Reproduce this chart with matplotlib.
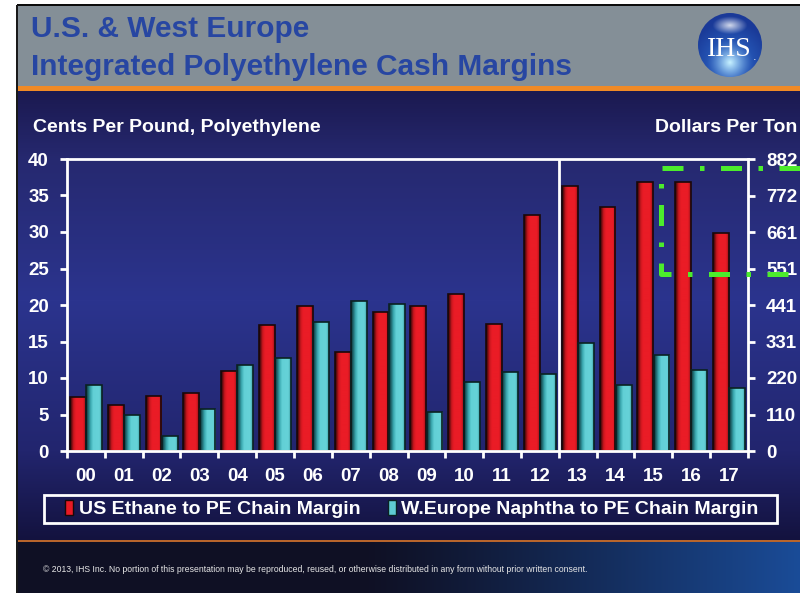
import numpy as np
import matplotlib
matplotlib.use("Agg")
import matplotlib.pyplot as plt
from matplotlib.colors import LinearSegmentedColormap, to_rgb
from matplotlib.patches import Rectangle, Circle, Patch

# ---------------- data ----------------
years = ["00", "01", "02", "03", "04", "05", "06", "07", "08",
         "09", "10", "11", "12", "13", "14", "15", "16", "17"]
us_ethane = [7.4, 6.3, 7.5, 8.0, 11.0, 17.2, 19.9, 13.6, 19.1,
             19.9, 21.5, 17.4, 32.3, 36.3, 33.4, 36.8, 36.8, 29.9]
weu_naphtha = [9.1, 5.0, 2.0, 5.8, 11.8, 12.7, 17.7, 20.5, 20.2,
               5.4, 9.4, 10.8, 10.6, 14.8, 9.1, 13.1, 11.1, 8.6]
left_ticks = [0, 5, 10, 15, 20, 25, 30, 35, 40]
right_tick_labels = ["0", "110", "220", "331", "441", "551", "661", "772", "882"]
series_names = ["US Ethane to PE Chain Margin", "W.Europe Naphtha to PE Chain Margin"]
title_lines = ["U.S. & West Europe", "Integrated Polyethylene Cash Margins"]
left_label = "Cents Per Pound, Polyethylene"
right_label = "Dollars Per Ton"
footer = ("\u00a9 2013, IHS Inc. No portion of this presentation may be reproduced, reused, "
          "or otherwise distributed in any form without prior written consent.")

W, H = 800, 593
BOLD = ["Liberation Sans", "DejaVu Sans"]

fig = plt.figure(figsize=(W / 100, H / 100), dpi=100)

# ---------------- background (pixel coordinates, y down) ----------------
bg = fig.add_axes([0, 0, 1, 1], zorder=-5)
bg.set_xlim(0, W)
bg.set_ylim(H, 0)
bg.axis("off")

img = np.ones((H, W, 3))
ys = np.arange(H)
stops_y = [91, 160, 300, 450, 540]
stops_c = np.array([(0x1b, 0x19, 0x50), (0x26, 0x29, 0x70), (0x2b, 0x34, 0x8e),
                    (0x22, 0x25, 0x6e), (0x13, 0x12, 0x3e)]) / 255.0
navy = np.stack([np.interp(ys, stops_y, stops_c[:, k]) for k in range(3)], axis=1)
img[91:541, 17:, :] = navy[91:541, None, :]
img[5:86, 17:, :] = np.array(to_rgb("#848f97"))
img[86:91, 17:, :] = np.array(to_rgb("#f08a26"))
xs = np.arange(W)
fc0 = np.array(to_rgb("#0f1024"))
fc1 = np.array(to_rgb("#1a4c98"))
t = np.clip((xs - 360) / 440.0, 0, 1) ** 1.2
foot = fc0[None, :] * (1 - t[:, None]) + fc1[None, :] * t[:, None]
img[542:, 17:, :] = foot[None, 17:, :]
img[540:542, 17:, :] = np.array(to_rgb("#b8652c"))
img[4:6, 17:, :] = 0.05
img[5:, 16:18, :] = 0.1
bg.imshow(img, extent=[0, W, H, 0], aspect="auto", interpolation="bilinear", zorder=0)

# title
for i, line in enumerate(title_lines):
    bg.text(31, 37 + i * 38, line, color="#2746a2", fontsize=21.5, fontweight="bold",
            family=BOLD, va="baseline", ha="left", zorder=2)

# IHS logo
cx, cy, r = 730, 45, 32
n = 128
gx, gy = np.meshgrid(np.linspace(-1, 1, n), np.linspace(-1, 1, n))
d_low = np.sqrt(gx ** 2 + (gy - 0.55) ** 2)
tt = np.clip(1 - d_low / 1.3, 0, 1)
c_edge = np.array(to_rgb("#1a3a98"))
c_mid = np.array(to_rgb("#2f6fd0"))
c_light = np.array(to_rgb("#c8f2ff"))
logo = c_edge * (1 - tt[..., None]) + c_mid * tt[..., None]
glow = np.clip(1 - d_low / 0.75, 0, 1) ** 1.5
logo = logo * (1 - glow[..., None]) + c_light * glow[..., None]
hl = np.clip(1 - np.sqrt((gx / 0.55) ** 2 + ((gy + 0.62) / 0.28) ** 2), 0, 1)
logo = logo * (1 - hl[..., None] * 0.8) + np.ones(3) * hl[..., None] * 0.8
li = bg.imshow(logo, extent=[cx - r, cx + r, cy + r, cy - r], aspect="auto", zorder=3)
circ = Circle((cx, cy), r, transform=bg.transData, facecolor="none", edgecolor="none")
bg.add_patch(circ)
li.set_clip_path(circ)
bg.text(cx - 1, cy + 4, "IHS", color="white", fontsize=20, family=["Liberation Serif", "DejaVu Serif"],
        ha="center", va="center", zorder=4)
bg.text(cx + 25, cy + 12, ".", color="white", fontsize=8, ha="center", va="center", zorder=4)

# axis titles
bg.text(33, 128, left_label, color="white", fontsize=14, fontweight="bold", family=BOLD,
        ha="left", va="center", zorder=2)
bg.text(797, 128, right_label, color="white", fontsize=14, fontweight="bold", family=BOLD,
        ha="right", va="center", zorder=2)

# footer text
bg.text(43, 569, footer, color="#e8e8e8", fontsize=6.2, family=BOLD, ha="left", va="center", zorder=2)

# ---------------- chart ----------------
L, R, T, B = 67, 748, 159, 451
ax = fig.add_axes([L / W, (H - B) / H, (R - L) / W, (B - T) / H], zorder=1)
ax.set_facecolor("none")
x = np.arange(len(years))
bw = 0.42
red_bars = ax.bar(x - 0.215, us_ethane, bw, color="#e81a24", edgecolor="none", zorder=2)
cyan_bars = ax.bar(x + 0.215, weu_naphtha, bw, color="#5ecbd2", edgecolor="none", zorder=2)


def shade(bars, cols):
    cmap = LinearSegmentedColormap.from_list("g", cols)
    grad = np.linspace(0, 1, 64)[None, :]
    for b in bars:
        x0, y0, w, h = b.get_x(), b.get_y(), b.get_width(), b.get_height()
        im = ax.imshow(grad, cmap=cmap, extent=[x0, x0 + w, y0, y0 + h], aspect="auto",
                       zorder=2.1, interpolation="bilinear")
        im.set_clip_path(b)


shade(red_bars, [(0, "#1a0505"), (0.22, "#c8161e"), (0.38, "#ea1c26"), (0.82, "#ea1c26"), (1, "#9a1218")])
shade(cyan_bars, [(0, "#082c30"), (0.28, "#3aa8b0"), (0.45, "#62d0d6"), (0.85, "#66d2d8"), (1, "#3a9aa0")])
ax.bar(x - 0.215, us_ethane, bw, fill=False, edgecolor="#1a0808", lw=1.2, zorder=2.2)
ax.bar(x + 0.215, weu_naphtha, bw, fill=False, edgecolor="#0a2222", lw=1.2, zorder=2.2)

ax.set_xlim(-0.5, len(years) - 0.5)
ax.set_ylim(0, 40)
ax.axvline(12.5, color="white", lw=2, zorder=3)

for s in ax.spines.values():
    s.set_color("white")
    s.set_linewidth(2)
ax.set_xticks(x)
ax.set_xticklabels(years)
ax.set_xticks(np.arange(-0.5, len(years)), minor=True)
ax.tick_params(axis="x", which="major", length=0, pad=12, labelsize=13.5, labelcolor="white")
ax.tick_params(axis="x", which="minor", length=5, width=2, color="white", direction="out")
ax.set_yticks(left_ticks)
ax.tick_params(axis="y", length=5, width=2, color="white", direction="out", pad=8,
               labelsize=13.5, labelcolor="white")
for lab in ax.get_xticklabels() + ax.get_yticklabels():
    lab.set_fontweight("bold")
    lab.set_family(BOLD)

ax2 = ax.twinx()
ax2.set_ylim(0, 40)
ax2.set_yticks(left_ticks)
ax2.set_yticklabels(right_tick_labels)
ax2.tick_params(axis="y", length=5, width=2, color="white", direction="out", pad=8,
                labelsize=13.5, labelcolor="white")
for lab in ax2.get_yticklabels():
    lab.set_fontweight("bold")
    lab.set_family(BOLD)
for s in ax2.spines.values():
    s.set_visible(False)

# ---------------- legend ----------------
bg.add_patch(Rectangle((44, 495), 733, 28, facecolor="none", edgecolor="white", lw=2, zorder=2))
handles = [Patch(facecolor="#e81a24", edgecolor="#1a0808"),
           Patch(facecolor="#5ecbd2", edgecolor="#0a2222")]
leg = fig.legend(handles, series_names, loc="center", bbox_to_anchor=(412 / W, 1 - 509 / H),
                 ncol=2, frameon=False, handlelength=0.4, handleheight=0.8, handletextpad=0.3,
                 columnspacing=1.4, prop={"family": BOLD, "weight": "bold", "size": 14})
for txt in leg.get_texts():
    txt.set_color("white")

# ---------------- green dash-dot highlight (overlay) ----------------
ov = fig.add_axes([0, 0, 1, 1], zorder=10)
ov.set_xlim(0, W)
ov.set_ylim(H, 0)
ov.axis("off")
ov.plot([800, 661, 661, 800], [168, 168, 274, 274], color="#4cec2c", lw=3.6,
        linestyle=(0, (4.2, 3.3, 0.9, 3.3)), dash_capstyle="butt")

fig.savefig("out.png", dpi=100)
